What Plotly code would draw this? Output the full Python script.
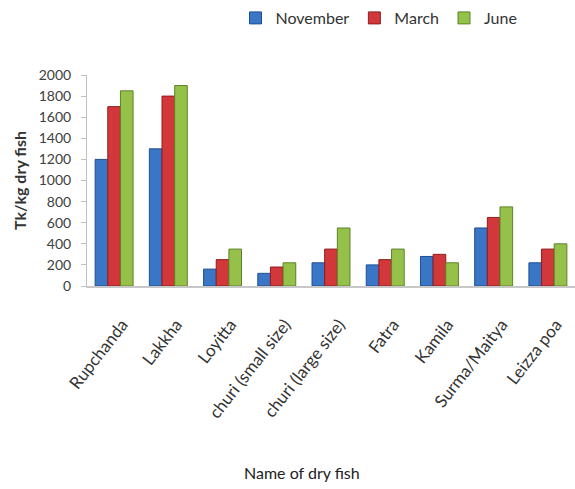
import plotly.graph_objects as go

# Dry fish market price (Tk/kg) by season
fish = ["Rupchanda", "Lakkha", "Loyitta", "churi (small size)", "churi (large size)",
        "Fatra", "Kamila", "Surma/Maitya", "Leizza poa"]
november = [1200, 1300, 160, 120, 220, 200, 280, 550, 220]
march = [1700, 1800, 250, 180, 350, 250, 300, 650, 350]
june = [1850, 1900, 350, 220, 550, 350, 220, 750, 400]

y_ticks = list(range(0, 2001, 200))

series = [
    ("November", november, "#3A76C6", "#1F4F8F"),
    ("March", march, "#D2373A", "#8E1E20"),
    ("June", june, "#95C14A", "#5E8228"),
]

font_family = "Lato, 'Open Sans', sans-serif"

# plot area in pixels (left axis, top of 2000 tick, zero line)
W, H = 575, 489
PLOT_LEFT, PLOT_TOP, PLOT_BOTTOM = 87, 75, 286
PLOT_W = W - PLOT_LEFT

fig = go.Figure()
for name, vals, fill, edge in series:
    fig.add_trace(go.Bar(
        x=fish, y=vals, name=name,
        marker=dict(color=fill, line=dict(color=edge, width=1)),
    ))

fig.update_layout(
    width=W, height=H,
    margin=dict(l=PLOT_LEFT, r=0, t=PLOT_TOP, b=H - PLOT_BOTTOM, autoexpand=False),
    paper_bgcolor="white", plot_bgcolor="white",
    barmode="group", bargap=0.3, bargroupgap=0.0,
    font=dict(family=font_family, color="#404040", size=14),
    showlegend=True,
    legend=dict(
        orientation="h", x=(379 - PLOT_LEFT) / PLOT_W, xanchor="center",
        yref="container", y=1 - 18 / H, yanchor="middle",
        font=dict(size=16, color="#333333"),
        itemwidth=30, traceorder="normal",
    ),
    xaxis=dict(
        tickangle=-52, tickfont=dict(size=17, color="#333333"),
        ticklabelstandoff=20, ticklabelshift=8,
        showline=True, linecolor="#C8C8C8", linewidth=2,
        ticks="", showgrid=False, automargin=False,
    ),
    yaxis=dict(
        range=[0, 2000], tickvals=y_ticks,
        tickfont=dict(size=14, color="#404040"),
        ticklabelstandoff=7,
        showline=True, linecolor="#BFBFBF", linewidth=1,
        ticks="outside", ticklen=5, tickcolor="#BFBFBF",
        showgrid=False, zeroline=False, automargin=False,
        title=dict(text="<b>Tk/kg dry fish</b>", font=dict(size=16, color="#333333"), standoff=8),
    ),
    annotations=[dict(
        text="Name of dry fish", x=(302 - PLOT_LEFT) / PLOT_W, xref="paper",
        y=-(472 - PLOT_BOTTOM) / (PLOT_BOTTOM - PLOT_TOP), yref="paper", yanchor="middle",
        showarrow=False, font=dict(size=16, color="#222222"),
    )],
)

fig.write_html("out.html")
